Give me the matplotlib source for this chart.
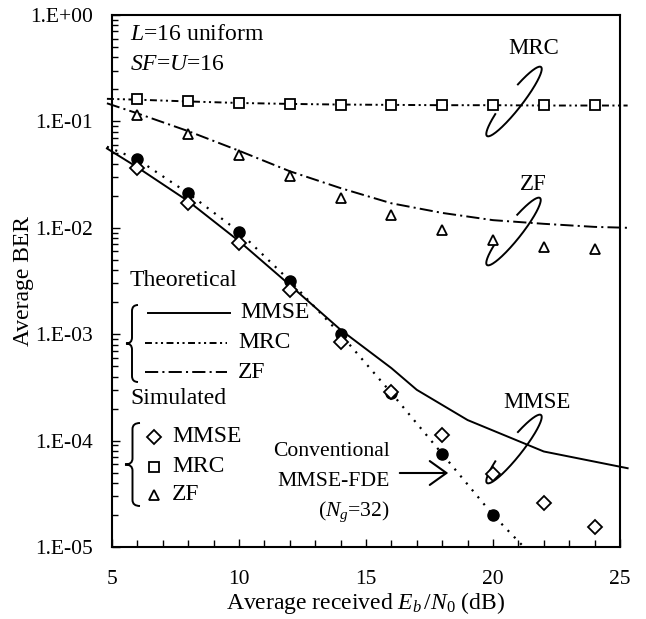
import matplotlib
matplotlib.use("Agg")
import numpy as np
import matplotlib.pyplot as plt
from matplotlib.path import Path
from matplotlib.patches import PathPatch, FancyArrowPatch
from matplotlib.ticker import FuncFormatter, MultipleLocator, LogLocator, NullFormatter

# ---------------- data ----------------
snr_sim = [6, 8, 10, 12, 14, 16, 18, 20, 22, 24]
sim_mmse = [0.0362, 0.0170, 0.00714, 0.0026, 0.00085, 0.000288, 0.000113, 4.85e-5, 2.58e-5, 1.53e-5]
sim_mrc = [0.161, 0.156, 0.150, 0.145, 0.1426, 0.1426, 0.1426, 0.1426, 0.1426, 0.1426]
sim_zf = [0.115, 0.076, 0.0483, 0.031, 0.019, 0.0132, 0.0095, 0.0076, 0.0066, 0.0063]

snr_conv = [6, 8, 10, 12, 14, 16, 18, 20]
sim_conv = [0.044, 0.0211, 0.0092, 0.00318, 0.000998, 0.00028, 7.5e-5, 2.0e-5]
conv_line_x = [4.8, 6, 8, 10, 12, 14, 16, 18, 20, 21.25]
conv_line_y = [0.0578, 0.044, 0.0211, 0.0092, 0.00318, 0.000998, 0.00028, 7.5e-5, 2.0e-5, 9.8e-6]

th_mmse_x = [4.8, 6, 8, 10, 12, 14, 16, 17, 19, 22, 25.3]
th_mmse = [0.0557, 0.0370, 0.0178, 0.0075, 0.0029, 0.0011, 0.00048, 0.0003, 1.56e-4, 7.9e-5, 5.5e-5]
th_mrc_x = [4.8, 6, 8, 10, 12, 14, 16, 18, 20, 22, 24, 25.3]
th_mrc = [0.163, 0.160, 0.154, 0.149, 0.146, 0.144, 0.143, 0.142, 0.142, 0.141, 0.141, 0.141]
th_zf_x = [4.8, 6, 8, 10, 12, 14, 16, 18, 20, 22, 24, 25.3]
th_zf = [0.148, 0.119, 0.081, 0.053, 0.034, 0.0236, 0.017, 0.0138, 0.0118, 0.0109, 0.0102, 0.0100]

xticks = [5, 10, 15, 20, 25]

# ---------------- style ----------------
plt.rcParams['font.family'] = ['Liberation Serif', 'DejaVu Serif']
plt.rcParams['mathtext.fontset'] = 'custom'
plt.rcParams['mathtext.rm'] = 'Liberation Serif'
plt.rcParams['mathtext.it'] = 'Liberation Serif:italic'
plt.rcParams['lines.scale_dashes'] = False

W, H = 646, 619
L, R, T, B = 112, 620, 15, 547
fig = plt.figure(figsize=(W / 100, H / 100), dpi=100)
ax = fig.add_axes([L / W, 1 - B / H, (R - L) / W, (B - T) / H])


def af(px, py):
    return ((px - L) / (R - L), (B - py) / (B - T))


ZF_DASH = (0, (9.5, 3, 1.5, 3))
MRC_DASH = (0, (5, 2.5, 1.5, 2.5, 1.5, 2.5))
CONV_DOT = (0, (1.5, 5))
lw = 1.4

ax.set_yscale('log')
ax.set_xlim(5, 25)
ax.set_ylim(1e-5, 1)

# theoretical curves
ax.plot(th_mmse_x, th_mmse, color='k', lw=lw, clip_on=False)
ax.plot(th_mrc_x, th_mrc, color='k', lw=lw, linestyle=MRC_DASH, clip_on=False)
ax.plot(th_zf_x, th_zf, color='k', lw=lw, linestyle=ZF_DASH, clip_on=False)
ax.plot(conv_line_x, conv_line_y, color='k', lw=1.6, linestyle=CONV_DOT, clip_on=False)

# simulated markers
ms_kw = dict(linestyle='none', markerfacecolor='white', markeredgecolor='k', markeredgewidth=1.3, zorder=5)
ax.plot(snr_conv, sim_conv, 'o', color='k', ms=8, linestyle='none', zorder=4)
ax.plot(snr_sim, sim_mmse, marker='D', ms=6.8, **ms_kw)
ax.plot(snr_sim, sim_mrc, marker='s', ms=7, **ms_kw)
ax.plot(snr_sim, sim_zf, marker='^', ms=7.5, **ms_kw)

# axes styling
for s in ax.spines.values():
    s.set_linewidth(1.5)
ax.xaxis.set_major_locator(MultipleLocator(5))
ax.xaxis.set_minor_locator(MultipleLocator(1))
ax.yaxis.set_major_locator(LogLocator(base=10, numticks=10))
ax.yaxis.set_minor_locator(LogLocator(base=10, subs=np.arange(2, 10), numticks=20))
ax.yaxis.set_minor_formatter(NullFormatter())
ax.yaxis.set_major_formatter(FuncFormatter(lambda v, p: "1.E%+03d" % int(round(np.log10(v)))))
ax.set_xticks(xticks)
ax.tick_params(which='both', direction='in', top=False, right=False, width=1.0, labelsize=15.5)
ax.tick_params(axis='y', which='major', length=6, pad=13.5)
ax.tick_params(axis='y', which='minor', length=4)
ax.tick_params(axis='x', which='major', length=6, pad=16.5)
ax.tick_params(axis='x', which='minor', length=5)

ax.set_ylabel('Average BER', fontsize=17, va='center')
ax.yaxis.set_label_coords((23 - L) / (R - L), 0.5)
ax.set_xlabel(r'Average received $E_b\,/N_0$ (dB)', fontsize=17, va='center')
ax.xaxis.set_label_coords(0.5, (B - 603) / (B - T))

# top-left note
ax.text(*af(130, 35), r'$L$=16 uniform', fontsize=17, va='center', ha='left', transform=ax.transAxes)
ax.text(*af(130, 65), r'$SF$=$U$=16', fontsize=17, va='center', ha='left', transform=ax.transAxes)

# ---------------- legend (hand drawn) ----------------
def brace(xl, xr, y0, y1):
    xm = (xl + xr) / 2
    ym = (y0 + y1) / 2
    r = 6
    pts = [(xr, y0), (xm, y0), (xm, y0 + r), (xm, ym - r), (xm, ym), (xl, ym),
           (xm, ym), (xm, ym + r), (xm, y1 - r), (xm, y1), (xr, y1)]
    codes = [Path.MOVETO, Path.CURVE3, Path.CURVE3, Path.LINETO, Path.CURVE3, Path.CURVE3,
             Path.CURVE3, Path.CURVE3, Path.LINETO, Path.CURVE3, Path.CURVE3]
    verts = [af(*p) for p in pts]
    ax.add_patch(PathPatch(Path(verts, codes), facecolor='none', edgecolor='k', lw=1.4,
                           transform=ax.transAxes, clip_on=False))


fs_leg = 17
ax.text(*af(130, 280), 'Theoretical', fontsize=fs_leg, va='center', ha='left', transform=ax.transAxes)
brace(126, 138, 305, 382)
for (y, style, name, x0, x1, xt) in [(313, '-', 'MMSE', 148, 230, 240),
                                     (343, MRC_DASH, 'MRC', 145, 227, 238),
                                     (372, ZF_DASH, 'ZF', 145, 227, 238)]:
    p0, p1 = af(x0, y), af(x1, y)
    ax.plot([p0[0], p1[0]], [p0[1], p1[1]], color='k', lw=lw, linestyle=style, transform=ax.transAxes)
    ax.text(*af(xt, y), name, fontsize=fs_leg, va='center', ha='left', transform=ax.transAxes)

ax.text(*af(130, 398), 'Simulated', fontsize=fs_leg, va='center', ha='left', transform=ax.transAxes)
brace(125, 140, 423, 506)
for (y, mk, msz, name) in [(437, 'D', 6.8, 'MMSE'), (467, 's', 7, 'MRC'), (495, '^', 7.5, 'ZF')]:
    p = af(154, y)
    ax.plot([p[0]], [p[1]], marker=mk, ms=msz, transform=ax.transAxes, **ms_kw)
    ax.text(*af(172, y), name, fontsize=fs_leg, va='center', ha='left', transform=ax.transAxes)

# ---------------- annotations ----------------
def loop(top, bot, b=8.0, t0=-1.2, t1=4.2):
    Tp = np.array(top, float)
    Bp = np.array(bot, float)
    C = (Tp + Bp) / 2
    d = Tp - Bp
    a = np.linalg.norm(d) / 2
    eu = d / np.linalg.norm(d)
    ev = np.array([-eu[1], eu[0]])
    t = np.linspace(t0, t1, 200)
    pts = C[None, :] + np.outer(a * np.cos(t), eu) + np.outer(b * np.sin(t), ev)
    fr = np.array([af(px, py) for px, py in pts])
    ax.plot(fr[:, 0], fr[:, 1], color='k', lw=1.4, transform=ax.transAxes, clip_on=False)


loop((541, 67), (487, 136))
loop((540, 198), (487, 265))
loop((541, 415), (487, 483))
ax.text(*af(534, 48), 'MRC', fontsize=16.5, ha='center', va='center', transform=ax.transAxes)
ax.text(*af(533, 185), 'ZF', fontsize=16.5, ha='center', va='center', transform=ax.transAxes)
ax.text(*af(537, 403), 'MMSE', fontsize=16.5, ha='center', va='center', transform=ax.transAxes)

ax.text(*af(390, 452), 'Conventional', fontsize=15.6, ha='right', va='center', transform=ax.transAxes)
ax.text(*af(390, 482), 'MMSE-FDE', fontsize=15.6, ha='right', va='center', transform=ax.transAxes)
ax.text(*af(390, 512), r'($N_g$=32)', fontsize=15.6, ha='right', va='center', transform=ax.transAxes)
arr = FancyArrowPatch(af(397, 473), af(451, 473), transform=ax.transAxes,
                      arrowstyle='->,head_length=0.6,head_width=0.43', mutation_scale=20,
                      lw=1.5, color='k', clip_on=False)
ax.add_patch(arr)

fig.savefig('out.png', dpi=100)
